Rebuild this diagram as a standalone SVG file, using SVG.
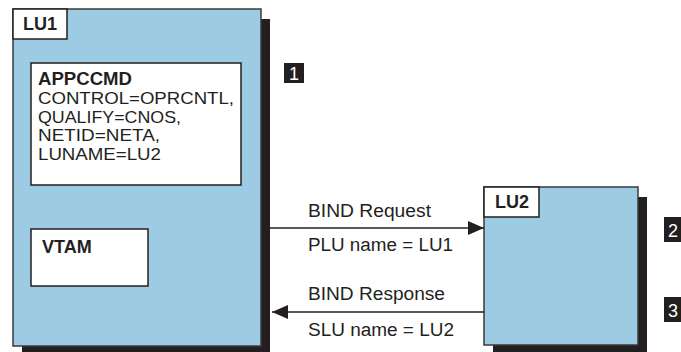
<svg xmlns="http://www.w3.org/2000/svg" width="681" height="352" viewBox="0 0 681 352">
  <defs>
    <style>
      .panel { fill: #9dcbe3; stroke: #3a3a3a; stroke-width: 1.5; }
      .shadow { fill: #231f20; }
      .box { fill: #ffffff; stroke: #231f20; stroke-width: 1.5; }
      .t { font-family: "Liberation Sans", Arial, sans-serif; font-size: 18px; fill: #231f20; }
      .s { font-size: 17px; }
      .b { font-weight: bold; }
      .tag { fill: #231f20; }
      .tagt { font-family: "Liberation Sans", Arial, sans-serif; font-size: 18px; fill: #ffffff; }
      .link { stroke: #231f20; stroke-width: 1.3; fill: none; }
    </style>
    <marker id="arrow" viewBox="0 0 16 14" refX="16" refY="7" markerWidth="16" markerHeight="14" markerUnits="userSpaceOnUse" orient="auto">
      <path d="M0,0 L16,7 L0,14 Z" fill="#231f20"/>
    </marker>
  </defs>

  <!-- LU1 node -->
  <g id="lu1">
    <rect class="shadow" x="22" y="19" width="248" height="335"/>
    <rect class="panel" x="13" y="9" width="248" height="337"/>
    <rect class="box" x="13" y="9" width="54" height="30"/>
    <text class="t b" x="23" y="30">LU1</text>
    <g id="appccmd">
      <rect class="box" x="31" y="63" width="210" height="122"/>
      <text class="t b" x="38" y="85" textLength="94" lengthAdjust="spacingAndGlyphs">APPCCMD</text>
      <text class="t s" x="38" y="104" textLength="196" lengthAdjust="spacingAndGlyphs">CONTROL=OPRCNTL,</text>
      <text class="t s" x="38" y="122.5" textLength="143" lengthAdjust="spacingAndGlyphs">QUALIFY=CNOS,</text>
      <text class="t s" x="38" y="141" textLength="122" lengthAdjust="spacingAndGlyphs">NETID=NETA,</text>
      <text class="t s" x="38" y="159.5" textLength="123" lengthAdjust="spacingAndGlyphs">LUNAME=LU2</text>
    </g>
    <g id="vtam">
      <rect class="box" x="31" y="229" width="117" height="57"/>
      <text class="t b" x="42" y="253">VTAM</text>
    </g>
  </g>

  <!-- LU2 node -->
  <g id="lu2">
    <rect class="shadow" x="493" y="197" width="154" height="157"/>
    <rect class="panel" x="484" y="187" width="154" height="158"/>
    <rect class="box" x="484" y="187" width="55" height="30"/>
    <text class="t b" x="495" y="208">LU2</text>
  </g>

  <!-- step tags -->
  <g id="tag1">
    <rect class="tag" x="284" y="63" width="20" height="20"/>
    <text class="tagt" x="289" y="80">1</text>
  </g>
  <g id="tag2">
    <rect class="tag" x="664" y="217" width="26" height="25"/>
    <text class="tagt" x="668" y="237">2</text>
  </g>
  <g id="tag3">
    <rect class="tag" x="664" y="297" width="26" height="25"/>
    <text class="tagt" x="668" y="317">3</text>
  </g>

  <!-- connectors -->
  <g id="connectors">
    <line class="link" x1="270" y1="228" x2="484" y2="228" marker-end="url(#arrow)"/>
    <line class="link" x1="484" y1="312" x2="272" y2="312" marker-end="url(#arrow)"/>
    <text class="t" x="308" y="217" textLength="123" lengthAdjust="spacingAndGlyphs">BIND Request</text>
    <text class="t" x="308" y="251" textLength="145" lengthAdjust="spacingAndGlyphs">PLU name = LU1</text>
    <text class="t" x="308" y="300" textLength="137" lengthAdjust="spacingAndGlyphs">BIND Response</text>
    <text class="t" x="308" y="336" textLength="146" lengthAdjust="spacingAndGlyphs">SLU name = LU2</text>
  </g>
</svg>
